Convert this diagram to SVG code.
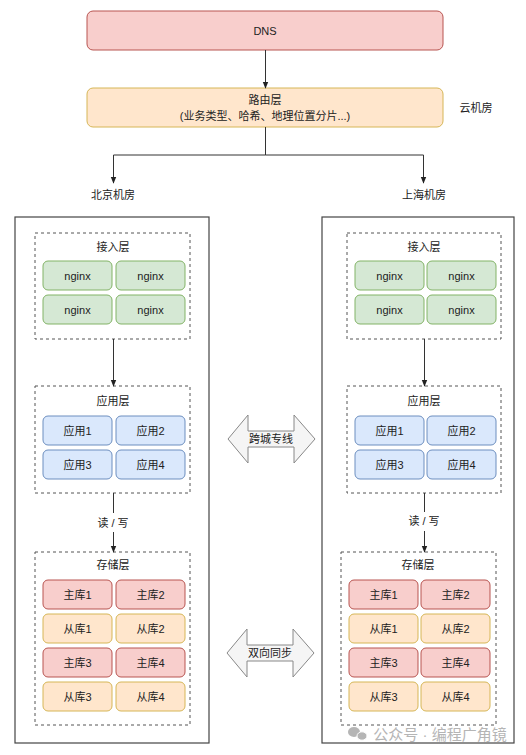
<svg xmlns="http://www.w3.org/2000/svg" width="526" height="755" viewBox="0 0 526 755">
<defs>
<style>
text{font-family:"Liberation Sans","Noto Sans CJK SC",sans-serif;font-size:11px;fill:#222;text-anchor:middle;dominant-baseline:central}
.red{fill:#f8cecc;stroke:#b85450;stroke-width:1}
.yel{fill:#ffe6cc;stroke:#d6b656;stroke-width:1}
.grn{fill:#d5e8d4;stroke:#82b366;stroke-width:1}
.blu{fill:#dae8fc;stroke:#6c8ebf;stroke-width:1}
.room{fill:#fff;stroke:#444;stroke-width:1.2}
.grp{fill:none;stroke:#555;stroke-width:1;stroke-dasharray:3 3}
.ln{fill:none;stroke:#333;stroke-width:1}
.big{fill:#f5f5f5;stroke:#888;stroke-width:1}
.wm{fill:#b5b5b5;font-size:15px}
</style>
<marker id="ah" viewBox="0 0 10 10" refX="9" refY="5" markerWidth="7" markerHeight="7" orient="auto" markerUnits="userSpaceOnUse">
<path d="M0,1 L10,5 L0,9 Z" fill="#222"/>
</marker>
</defs>

<g id="dns"><rect class="red" x="87" y="11" width="356" height="39" rx="6"/><text x="265" y="31">DNS</text></g>
<g id="router"><rect class="yel" x="87" y="88" width="356" height="39" rx="6"/><text x="265" y="100">路由层</text><text x="265" y="116">(业务类型、哈希、地理位置分片...)</text></g>
<g id="cloud-label"><text x="476" y="108">云机房</text></g>
<g id="bj-label"><text x="113" y="195">北京机房</text></g>
<g id="sh-label"><text x="424" y="195">上海机房</text></g>

<g id="room-bj"><rect class="room" x="15" y="217" width="194" height="526"/></g>
<g id="room-sh"><rect class="room" x="322" y="217" width="192" height="526"/></g>

<g id="bj-access">
<rect class="grp" x="35" y="233" width="155" height="106"/><text x="113" y="247">接入层</text>
<rect class="grn" x="43" y="261" width="69" height="29" rx="5"/><text x="77.5" y="275.5">nginx</text>
<rect class="grn" x="116" y="261" width="69" height="29" rx="5"/><text x="150.5" y="275.5">nginx</text>
<rect class="grn" x="43" y="295" width="69" height="29" rx="5"/><text x="77.5" y="309.5">nginx</text>
<rect class="grn" x="116" y="295" width="69" height="29" rx="5"/><text x="150.5" y="309.5">nginx</text>
</g>
<g id="bj-app">
<rect class="grp" x="35" y="386" width="155" height="107"/><text x="113" y="401">应用层</text>
<rect class="blu" x="43" y="416" width="69" height="29" rx="5"/><text x="77.5" y="430.5">应用1</text>
<rect class="blu" x="116" y="416" width="69" height="29" rx="5"/><text x="150.5" y="430.5">应用2</text>
<rect class="blu" x="43" y="450" width="69" height="29" rx="5"/><text x="77.5" y="464.5">应用3</text>
<rect class="blu" x="116" y="450" width="69" height="29" rx="5"/><text x="150.5" y="464.5">应用4</text>
</g>
<g id="bj-store">
<rect class="grp" x="35" y="552" width="155" height="173"/><text x="113" y="565">存储层</text>
<rect class="red" x="43" y="580" width="69" height="29" rx="5"/><text x="77.5" y="594.5">主库1</text>
<rect class="red" x="116" y="580" width="69" height="29" rx="5"/><text x="150.5" y="594.5">主库2</text>
<rect class="yel" x="43" y="614" width="69" height="29" rx="5"/><text x="77.5" y="628.5">从库1</text>
<rect class="yel" x="116" y="614" width="69" height="29" rx="5"/><text x="150.5" y="628.5">从库2</text>
<rect class="red" x="43" y="648" width="69" height="29" rx="5"/><text x="77.5" y="662.5">主库3</text>
<rect class="red" x="116" y="648" width="69" height="29" rx="5"/><text x="150.5" y="662.5">主库4</text>
<rect class="yel" x="43" y="682" width="69" height="29" rx="5"/><text x="77.5" y="696.5">从库3</text>
<rect class="yel" x="116" y="682" width="69" height="29" rx="5"/><text x="150.5" y="696.5">从库4</text>
</g>

<g id="sh-access">
<rect class="grp" x="347" y="233" width="154" height="106"/><text x="424" y="247">接入层</text>
<rect class="grn" x="355" y="261" width="69" height="29" rx="5"/><text x="389.5" y="275.5">nginx</text>
<rect class="grn" x="427" y="261" width="69" height="29" rx="5"/><text x="461.5" y="275.5">nginx</text>
<rect class="grn" x="355" y="295" width="69" height="29" rx="5"/><text x="389.5" y="309.5">nginx</text>
<rect class="grn" x="427" y="295" width="69" height="29" rx="5"/><text x="461.5" y="309.5">nginx</text>
</g>
<g id="sh-app">
<rect class="grp" x="347" y="386" width="154" height="107"/><text x="424" y="401">应用层</text>
<rect class="blu" x="355" y="416" width="69" height="29" rx="5"/><text x="389.5" y="430.5">应用1</text>
<rect class="blu" x="427" y="416" width="69" height="29" rx="5"/><text x="461.5" y="430.5">应用2</text>
<rect class="blu" x="355" y="450" width="69" height="29" rx="5"/><text x="389.5" y="464.5">应用3</text>
<rect class="blu" x="427" y="450" width="69" height="29" rx="5"/><text x="461.5" y="464.5">应用4</text>
</g>
<g id="sh-store">
<rect class="grp" x="341" y="552" width="155" height="173"/><text x="418" y="565">存储层</text>
<rect class="red" x="349" y="580" width="69" height="29" rx="5"/><text x="383.5" y="594.5">主库1</text>
<rect class="red" x="421" y="580" width="69" height="29" rx="5"/><text x="455.5" y="594.5">主库2</text>
<rect class="yel" x="349" y="614" width="69" height="29" rx="5"/><text x="383.5" y="628.5">从库1</text>
<rect class="yel" x="421" y="614" width="69" height="29" rx="5"/><text x="455.5" y="628.5">从库2</text>
<rect class="red" x="349" y="648" width="69" height="29" rx="5"/><text x="383.5" y="662.5">主库3</text>
<rect class="red" x="421" y="648" width="69" height="29" rx="5"/><text x="455.5" y="662.5">主库4</text>
<rect class="yel" x="349" y="682" width="69" height="29" rx="5"/><text x="383.5" y="696.5">从库3</text>
<rect class="yel" x="421" y="682" width="69" height="29" rx="5"/><text x="455.5" y="696.5">从库4</text>
</g>

<g id="link-cross">
<path class="big" d="M228,439 L248,415 L248,431 L294,431 L294,415 L315,439 L294,463 L294,447 L248,447 L248,463 Z"/>
<text x="271" y="439">跨城专线</text>
</g>
<g id="link-sync">
<path class="big" d="M227,653 L247,629 L247,645 L293,645 L293,629 L314,653 L293,677 L293,661 L247,661 L247,677 Z"/>
<text x="270" y="653">双向同步</text>
</g>

<g id="connectors">
<line class="ln" x1="265.5" y1="50" x2="265.5" y2="88" marker-end="url(#ah)"/>
<path class="ln" d="M265.5,127 V155 H113.5 V183" marker-end="url(#ah)"/>
<path class="ln" d="M265.5,155 H423.5 V183" marker-end="url(#ah)"/>
<line class="ln" x1="113.5" y1="339" x2="113.5" y2="386" marker-end="url(#ah)"/>
<line class="ln" x1="424.5" y1="339" x2="424.5" y2="386" marker-end="url(#ah)"/>
<line class="ln" x1="113.5" y1="493" x2="113.5" y2="513"/>
<line class="ln" x1="113.5" y1="532" x2="113.5" y2="552" marker-end="url(#ah)"/>
<text x="113" y="523">读 / 写</text>
<line class="ln" x1="424.5" y1="493" x2="424.5" y2="512"/>
<line class="ln" x1="424.5" y1="531" x2="424.5" y2="552" marker-end="url(#ah)"/>
<text x="424" y="521">读 / 写</text>
</g>

<g id="watermark">
<ellipse cx="354" cy="732" rx="6" ry="5" fill="#b5b5b5"/>
<ellipse cx="362" cy="736" rx="5" ry="4.2" fill="#b5b5b5" stroke="#fff" stroke-width="1"/>
<text class="wm" x="440" y="734">公众号 · 编程广角镜</text>
</g>
</svg>
